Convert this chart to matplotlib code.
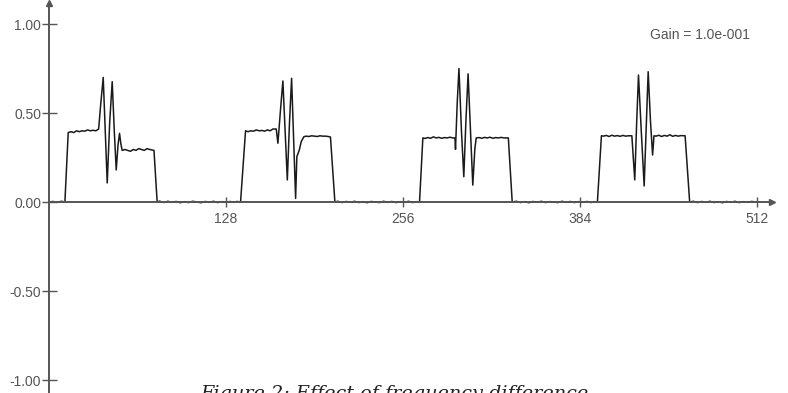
import matplotlib
matplotlib.use('Agg')
import matplotlib.pyplot as plt

# sample index / amplitude of the traced signal
xs = [0, 3, 6, 9, 11.6,
      14, 16, 18, 20, 22, 24, 26, 28, 30, 32, 34, 36, 37.5, 39.3, 40.8, 42.2, 44, 45.8, 47.3, 48.7, 50, 51.1, 52, 53,
      55, 57, 59, 61, 63, 65, 67, 69, 71, 73, 76, 78.3,
      80, 83, 86, 89, 92, 95, 98, 101, 104, 107, 110, 113, 116, 119, 122, 125, 128, 131, 134, 136, 138.6,
      142.2, 144, 146, 148, 150, 152, 154, 156, 158, 160, 162, 164.4, 165.6, 167.5, 169.2, 170.8, 172.4, 174, 175.5,
      177, 178.4, 179.3, 181, 182.5, 184.4, 186, 188, 190, 192, 194, 196, 198, 200, 202, 203.6, 206.8,
      209, 212, 215, 218, 221, 224, 227, 230, 233, 236, 239, 242, 245, 248, 251, 254, 257, 260, 263, 266, 268,
      270.4, 272, 274, 276, 278, 280, 282, 284, 286, 288, 290, 292, 293.6, 294, 295.2, 296.5, 298.3, 300, 301.5,
      303.1, 304.8, 306.5, 308, 309, 311, 313, 315, 317, 319, 321, 323, 325, 327, 329, 332.2, 335,
      338, 341, 344, 347, 350, 353, 356, 359, 362, 365, 368, 371, 374, 377, 380, 383, 386, 389, 392, 394, 396.6,
      399.5, 401, 403, 405, 407, 409, 411, 413, 415, 417, 419, 421.5, 423.6, 425, 426.3, 428.3, 430.4, 432, 433.3,
      435, 436.5, 437.5, 439, 441, 443, 445, 447, 449, 451, 453, 455, 457, 460, 463.3,
      466, 469, 472, 475, 478, 481, 484, 487, 490, 493, 496, 499, 502, 505, 508, 512]
ys = [0.0, 0.003, -0.002, 0.004, 0.0,
      0.39, 0.395, 0.39, 0.40, 0.395, 0.40, 0.398, 0.405, 0.40, 0.403, 0.40, 0.41, 0.55, 0.70, 0.40, 0.107, 0.45, 0.676, 0.40, 0.18, 0.32, 0.386, 0.33, 0.29,
      0.295, 0.29, 0.285, 0.295, 0.29, 0.30, 0.295, 0.29, 0.30, 0.295, 0.29, 0.0,
      0.005, -0.003, 0.004, -0.002, 0.003, -0.004, 0.002, -0.003, 0.004, 0.0, -0.004, 0.003, -0.002, 0.004, -0.003, 0.002, -0.002, 0.003, -0.002, 0.003, 0.0,
      0.40, 0.395, 0.40, 0.398, 0.405, 0.40, 0.402, 0.398, 0.405, 0.40, 0.41, 0.41, 0.33, 0.52, 0.68, 0.40, 0.124, 0.45, 0.695,
      0.35, 0.02, 0.255, 0.29, 0.34, 0.367, 0.37, 0.368, 0.372, 0.37, 0.368, 0.372, 0.37, 0.37, 0.368, 0.365, 0.0,
      0.004, -0.003, 0.003, -0.002, 0.004, -0.003, 0.002, -0.004, 0.003, 0.0, -0.003, 0.004, -0.002, 0.003, -0.003, 0.002, -0.002, 0.004, -0.003, 0.002, 0.0,
      0.36, 0.357, 0.362, 0.358, 0.366, 0.36, 0.363, 0.358, 0.362, 0.36, 0.364, 0.36, 0.36, 0.296, 0.55, 0.75, 0.40, 0.142, 0.45,
      0.72, 0.40, 0.095, 0.30, 0.36, 0.362, 0.358, 0.363, 0.36, 0.364, 0.358, 0.362, 0.36, 0.363, 0.36, 0.36, 0.0,
      0.004, -0.003, 0.002, -0.004, 0.003, -0.002, 0.004, -0.003, 0.002, 0.0, -0.003, 0.004, -0.002, 0.003, -0.003, 0.002, -0.002, 0.003, -0.003, 0.002, 0.0,
      0.372, 0.37, 0.374, 0.368, 0.375, 0.37, 0.373, 0.369, 0.374, 0.37, 0.372, 0.372, 0.124, 0.45, 0.713, 0.40, 0.09, 0.45, 0.732,
      0.45, 0.264, 0.372, 0.37, 0.375, 0.368, 0.374, 0.37, 0.378, 0.369, 0.374, 0.37, 0.373, 0.372, 0.0,
      0.004, -0.003, 0.003, -0.002, 0.004, -0.003, 0.002, -0.004, 0.003, -0.002, 0.004, -0.003, 0.002, -0.002, 0.003, 0.0]

xticks = [128, 256, 384, 512]
yticks = [-1.0, -0.5, 0.0, 0.5, 1.0]
gain_text = 'Gain = 1.0e-001'
caption = 'Figure 2: Effect of frequency difference'

axis_col = '#555555'

fig = plt.figure(figsize=(7.88, 3.93), dpi=100)
ax = fig.add_axes([0.062, 0.0, 0.918, 390 / 393])

ax.plot(xs, ys, color='#1a1a1a', lw=1.1)

ax.set_xlim(0, 523)
ax.set_ylim(-1.073, 1.118)

for s in ['top', 'right']:
    ax.spines[s].set_visible(False)
ax.spines['bottom'].set_position(('data', 0))
ax.spines['left'].set_position(('data', 0))
for s in ['bottom', 'left']:
    ax.spines[s].set_color(axis_col)
    ax.spines[s].set_linewidth(1.4)

# arrow heads at axis ends
ax.plot(1, 0, '>', color=axis_col, ms=4, transform=ax.get_yaxis_transform(), clip_on=False)
ax.plot(0, 1, '^', color=axis_col, ms=4, transform=ax.get_xaxis_transform(), clip_on=False)

ax.set_xticks(xticks)
ax.set_xticklabels([str(t) for t in xticks])
ax.set_yticks(yticks)
ax.set_yticklabels(['%.2f' % t for t in yticks])
ax.tick_params(direction='inout', width=1.0, color=axis_col,
               labelcolor='#555555', labelsize=10)
ax.tick_params(axis='x', length=6.5, pad=4)
ax.tick_params(axis='y', length=10.8, pad=0)
for lab in ax.get_xticklabels() + ax.get_yticklabels():
    lab.set_family('Liberation Sans')

ax.text((750 - 49) / 723, 0.917, gain_text, transform=ax.transAxes, ha='right', va='center',
        fontsize=10, color='#555555', family='Liberation Sans')

fig.text(200 / 788, -6 / 393, caption, ha='left', va='baseline',
         fontsize=13.9, style='italic', family='DejaVu Serif', color='#222222')

fig.savefig('out.png', dpi=100)
